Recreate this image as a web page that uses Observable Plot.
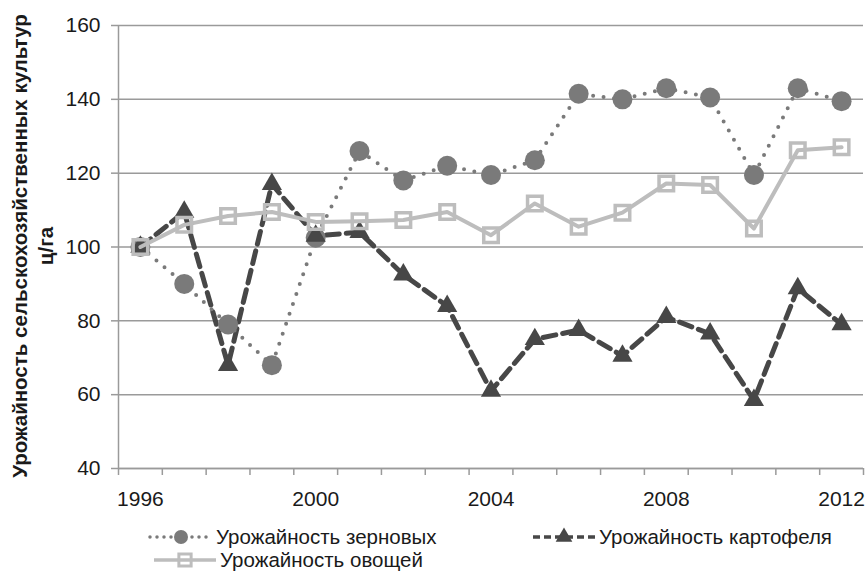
<!DOCTYPE html>
<html><head><meta charset="utf-8">
<script src="https://cdn.jsdelivr.net/npm/d3@7"></script>
<script src="https://cdn.jsdelivr.net/npm/@observablehq/plot@0.6"></script>
<style>
body{margin:0;background:#fff;}
#chart{position:relative;width:867px;height:572px;overflow:hidden;font-family:"Liberation Sans",Arial,sans-serif;}
#chart svg{display:block;}
#legend{position:absolute;left:0;top:515px;}
</style></head><body><div id="chart"></div>
<script>
const years = [1996,1997,1998,1999,2000,2001,2002,2003,2004,2005,2006,2007,2008,2009,2010,2011,2012];
const grain = [100,90,79,68,102.5,126,118,122,119.5,123.5,141.5,140,143,140.5,119.5,143,139.5];
const potato = [100,109.5,68,117,103,104,92.5,84,61,75,77.5,70.5,81,76.5,58.5,88.8,79];
const vegetables = [100,106,108.4,109.5,106.8,107,107.3,109.5,103.2,111.8,105.5,109.3,117.2,116.8,105,126.2,127];
const yTicks = [40,60,80,100,120,140,160];
const xTickLabels = [1996,2000,2004,2008,2012];
const seriesNames = ["Урожайность зерновых","Урожайность картофеля","Урожайность овощей"];
const yTitle = ["Урожайность сельскохозяйственных культур","ц/га"];

const cGrain = "#7a7a7a", cPotato = "#474747", cVeg = "#bdbdbd", cGrid = "#9a9a9a";
const toRows = vals => years.map((year,i)=>({year, value: vals[i]}));
const grainRows = toRows(grain), potatoRows = toRows(potato), vegRows = toRows(vegetables);
const x0 = d3.min(years) - 0.5, x1 = d3.max(years) + 0.5;
const bounds = years.map(y=>y-0.5).concat([x1]);

const plot = Plot.plot({
  width: 867, height: 515,
  marginLeft: 118, marginRight: 4, marginTop: 25, marginBottom: 47,
  style: {fontFamily: "'Liberation Sans', Arial, sans-serif", color: "#1a1a1a", background: "white"},
  x: {type: "linear", domain: [x0, x1]},
  y: {domain: [d3.min(yTicks), d3.max(yTicks)]},
  marks: [
    Plot.gridY(yTicks, {stroke: cGrid, strokeOpacity: 1, strokeWidth: 1.5}),
    Plot.ruleX([x0], {stroke: cGrid, strokeWidth: 1.5}),
    Plot.ruleY([d3.min(yTicks)], {stroke: cGrid, strokeWidth: 1.5}),
    Plot.axisY(yTicks, {tickSize: 7, tickPadding: 11, fontSize: 21, label: null, stroke: cGrid, strokeWidth: 1.5}),
    Plot.axisX(bounds, {tickSize: 7, tickFormat: () => "", label: null, stroke: cGrid, strokeWidth: 1.5}),
    Plot.axisX(xTickLabels, {tickSize: 0, tickPadding: 23, fontSize: 21, tickFormat: d => String(d), label: null}),
    Plot.line(potatoRows, {x: "year", y: "value", stroke: cPotato, strokeWidth: 5, strokeDasharray: "13,7"}),
    Plot.line(grainRows, {x: "year", y: "value", stroke: cGrain, strokeWidth: 4, strokeDasharray: "0,10.5", strokeLinecap: "round"}),
    Plot.dot(grainRows, {x: "year", y: "value", r: 10, fill: cGrain}),
    Plot.dot(potatoRows, {x: "year", y: "value", symbol: "triangle", r: 7.5, fill: cPotato}),
    Plot.line(vegRows, {x: "year", y: "value", stroke: cVeg, strokeWidth: 4}),
    Plot.dot(vegRows, {x: "year", y: "value", symbol: "square", r: 8.2, fill: "none", stroke: cVeg, strokeWidth: 3.5})
  ]
});
document.getElementById("chart").appendChild(plot);

// y-axis title (two lines, rotated)
const svg = d3.select(plot);
const t = svg.append("text")
  .attr("transform", "translate(0,246) rotate(-90)")
  .attr("text-anchor", "middle")
  .attr("font-size", 20.5).attr("font-weight", "bold").attr("fill", "#1a1a1a");
t.append("tspan").attr("x", 0).attr("y", 27).text(yTitle[0]);
t.append("tspan").attr("x", 0).attr("y", 53).text(yTitle[1]);

// legend
const lg = d3.select("#chart").append("svg").attr("id","legend").attr("width", 867).attr("height", 57)
  .style("font-family","'Liberation Sans', Arial, sans-serif");
const items = [
  {name: seriesNames[0], x: 150, y: 22, color: cGrain, dash: "0,7", cap: "round", w: 3.5, sym: d3.symbolCircle, size: Math.PI*7*7, fill: cGrain, stroke: "none"},
  {name: seriesNames[1], x: 533, y: 22, color: cPotato, dash: "7,4", cap: "butt", w: 3.5, sym: d3.symbolTriangle, size: 120, fill: cPotato, stroke: "none"},
  {name: seriesNames[2], x: 154, y: 45, color: cVeg, dash: null, cap: "butt", w: 3.5, sym: d3.symbolSquare, size: 150, fill: "none", stroke: cVeg}
];
for (const it of items) {
  const g = lg.append("g").attr("transform", `translate(${it.x},${it.y})`);
  g.append("line").attr("x1", 0).attr("x2", 62).attr("y1", 0).attr("y2", 0)
    .attr("stroke", it.color).attr("stroke-width", it.w).attr("stroke-dasharray", it.dash).attr("stroke-linecap", it.cap);
  g.append("path").attr("transform", "translate(31,0)").attr("d", d3.symbol(it.sym, it.size)())
    .attr("fill", it.fill).attr("stroke", it.stroke).attr("stroke-width", 3);
  g.append("text").attr("x", 66).attr("y", 0).attr("dy", "0.35em").attr("font-size", 20.5).attr("fill", "#1a1a1a").text(it.name);
}
</script>
</body></html>
